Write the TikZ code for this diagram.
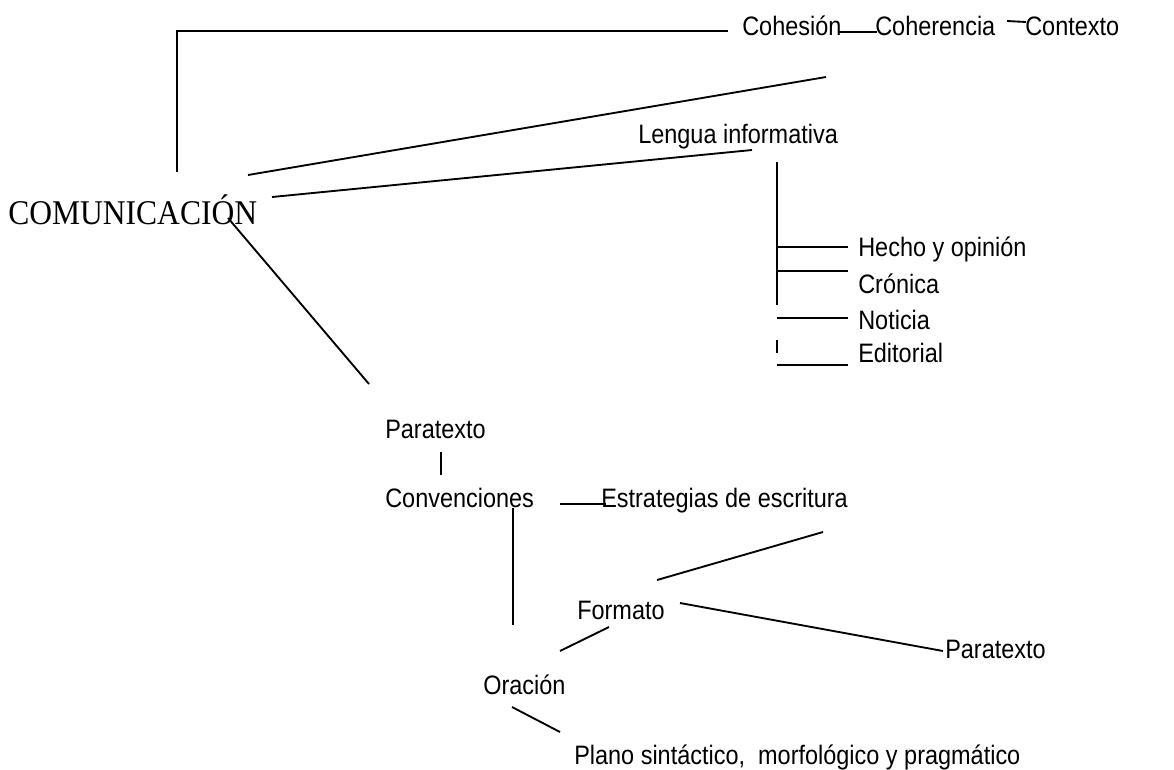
\documentclass[tikz,border=0pt]{standalone}
\usepackage{fontspec}
\setmainfont{Liberation Sans}[FakeStretch=0.88]
\newfontfamily\titulo{Liberation Serif}[FakeStretch=0.91]
\usetikzlibrary{positioning}
\usetikzlibrary{calc}
\tikzstyle{concepto}=[anchor=base west,inner sep=0pt,font=\fontsize{20}{24}\selectfont]
\tikzstyle{raiz}=[anchor=base west,inner sep=0pt,font=\titulo\fontsize{26}{30}\selectfont]
\tikzstyle{linea} = [draw,line width=1.4pt]

\begin{document}
\begin{tikzpicture}[x=0.75pt,y=-0.75pt]

  \useasboundingbox (0,0) rectangle (1174,769);

   \node[raiz] (comunicacion) at (8,224) {COMUNICACIÓN};

   \foreach \x/\y/\name/\label in { 742/35/cohesion/Cohesión, 875/35/coherencia/Coherencia, 1025/35/contexto/Contexto,
          638/143/lengua/Lengua informativa, 858/256/hecho/Hecho y opinión, 858/293/cronica/Crónica,
          858/329/noticia/Noticia, 858/362/editorial/Editorial, 385/438/paratexto/Paratexto,
          385/507/convenciones/Convenciones, 601/507/estrategias/Estrategias de escritura,
          577/619/formato/Formato, 945/658/paratextob/Paratexto, 483/694/oracion/Oración}
          \node[concepto] (\name) at (\x,\y) {\label};

   \node[concepto] (plano) at (574,764) {Plano sintáctico,\ \ morfológico y pragmático};

   % extremos sueltos de las lineas
   \foreach \x/\y/\name in { 177/172/a1, 177/31/a2, 728/31/a3, 838/32/b1, 877/32/b2, 1007/21/c1, 1026/22/c2,
          248/175/d1, 826/77/d2, 272/197/e1, 752/150/e2, 228/218/f1, 369/384/f2,
          777/162/g1, 777/305/g2, 777/247/h1, 848/247/h2, 777/271/i1, 848/271/i2,
          777/318/j1, 848/318/j2, 777/340/k1, 777/353/k2, 777/365/l1, 848/365/l2,
          441/452/m1, 441/475/m2, 560/504/n1, 606/504/n2, 513/508/o1, 513/625/o2,
          657/580/p1, 823/532/p2, 680/603/q1, 943/651/q2, 560/651/r1, 609/627/r2,
          512/707/s1, 560/732/s2}
          \coordinate (\name) at (\x,\y);

   \draw[linea] (a1) -- (a2) -- (a3);

   \foreach \source/ \dest in {b1/b2, c1/c2, d1/d2, e1/e2, f1/f2, g1/g2, h1/h2, i1/i2, j1/j2, k1/k2,
          l1/l2, m1/m2, n1/n2, o1/o2, p1/p2, q1/q2, r1/r2, s1/s2}
         \draw[linea] (\source) -- (\dest);

   \end{tikzpicture}
\end{document}
